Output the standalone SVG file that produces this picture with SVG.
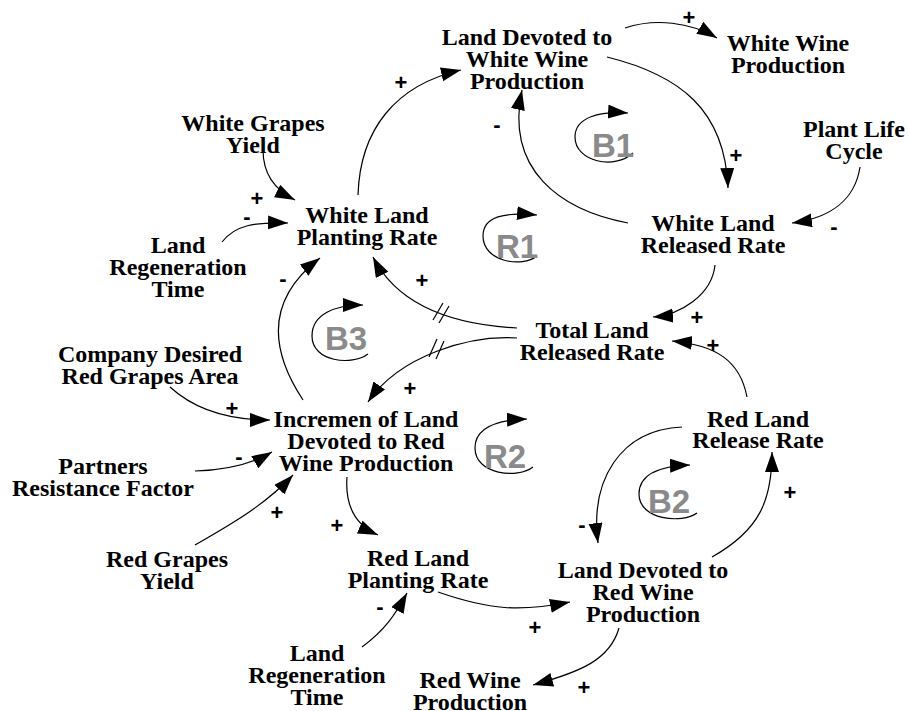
<svg xmlns="http://www.w3.org/2000/svg" width="908" height="711" viewBox="0 0 908 711">
<defs>
<marker id="ah" markerUnits="userSpaceOnUse" markerWidth="22" markerHeight="16" refX="20" refY="7" orient="auto">
<path d="M0,0 L20,7 L0,14 z" fill="#000"/>
</marker>
<style>
.n{font-family:"Liberation Serif","Times New Roman",serif;font-weight:bold;font-size:24px;text-anchor:middle;fill:#000}
.p{font-family:"Liberation Sans",Arial,sans-serif;font-weight:bold;font-size:22px;text-anchor:middle;fill:#000}
.l{font-family:"Liberation Sans",Arial,sans-serif;font-weight:bold;font-size:33px;text-anchor:middle;fill:#8a8a8a}
.c{fill:none;stroke:#000;stroke-width:1.2}
.a{marker-end:url(#ah)}
</style>
</defs>
<rect width="908" height="711" fill="#fff"/>
<g id="connectors">
<path class="c a" d="M358,195 C360,130 395,85 461,70"/>
<path class="c a" d="M625,28 C655,18 690,22 717,38"/>
<path class="c a" d="M607,57 C680,75 725,110 728,188"/>
<path class="c a" d="M628,223 C560,210 505,170 522,90"/>
<path class="c a" d="M860,167 C855,200 830,218 792,223"/>
<path class="c a" d="M263,150 C263,175 275,190 295,200"/>
<path class="c a" d="M222,242 C235,225 255,222 288,223"/>
<path class="c a" d="M303,400 C270,350 265,300 320,258"/>
<path class="c a" d="M517,328 C460,325 400,310 373,257"/>
<path class="c a" d="M517,338 C470,335 400,355 368,402"/>
<path class="c a" d="M715,265 C712,295 680,315 653,317"/>
<path class="c a" d="M747,397 C740,360 715,345 672,341"/>
<path class="c a" d="M170,387 C195,410 230,420 270,420"/>
<path class="c a" d="M195,471 C225,470 250,465 272,452"/>
<path class="c a" d="M195,545 C230,525 265,505 293,475"/>
<path class="c a" d="M347,477 C345,505 355,525 378,535"/>
<path class="c a" d="M362,647 C385,630 395,615 407,593"/>
<path class="c a" d="M438,592 C490,610 520,612 570,602"/>
<path class="c a" d="M619,628 C610,660 580,672 533,685"/>
<path class="c a" d="M712,557 C760,530 772,500 772,452"/>
<path class="c a" d="M682,427 C620,430 590,480 598,543"/>
<path class="c" d="M433,320 L443,303 M439,323 L449,306"/>
<path class="c" d="M429,357 L437,339 M436,359 L444,341"/>
<path class="c a" d="M633,153 C615,170 575,162 575,137 C575,117 600,111 628,113"/>
<path class="c a" d="M537,256 C522,268 483,262 483,236 C483,216 505,212 537,215"/>
<path class="c a" d="M368,354 C352,366 312,362 312,336 C312,314 335,305 363,305"/>
<path class="c a" d="M533,467 C518,479 475,475 475,448 C475,427 498,420 527,419"/>
<path class="c a" d="M697,513 C682,524 639,520 639,494 C639,473 662,466 690,465"/>
</g>
<g id="polarities">
<text class="p" x="401" y="90">+</text>
<text class="p" x="689" y="25">+</text>
<text class="p" x="736" y="163">+</text>
<text class="p" x="497" y="132">-</text>
<text class="p" x="834" y="234">-</text>
<text class="p" x="257" y="206">+</text>
<text class="p" x="247" y="224">-</text>
<text class="p" x="283" y="286">-</text>
<text class="p" x="422" y="288">+</text>
<text class="p" x="410" y="396">+</text>
<text class="p" x="697" y="325">+</text>
<text class="p" x="713" y="353">+</text>
<text class="p" x="232" y="416">+</text>
<text class="p" x="239" y="464">-</text>
<text class="p" x="277" y="520">+</text>
<text class="p" x="337" y="533">+</text>
<text class="p" x="380" y="614">-</text>
<text class="p" x="535" y="635">+</text>
<text class="p" x="584" y="695">+</text>
<text class="p" x="790" y="500">+</text>
<text class="p" x="582" y="532">-</text>
</g>
<g id="loops">
<text class="l" x="613" y="157">B1</text>
<text class="l" x="517" y="258">R1</text>
<text class="l" x="346" y="350">B3</text>
<text class="l" x="505" y="468">R2</text>
<text class="l" x="669" y="513">B2</text>
</g>
<g id="landWhite"><text class="n" x="527" y="45">Land Devoted to</text><text class="n" x="527" y="67">White Wine</text><text class="n" x="527" y="89">Production</text></g>
<g id="whiteWineProd"><text class="n" x="788" y="51">White Wine</text><text class="n" x="788" y="73">Production</text></g>
<g id="plantLife"><text class="n" x="854" y="137">Plant Life</text><text class="n" x="854" y="159">Cycle</text></g>
<g id="whiteReleased"><text class="n" x="713" y="231">White Land</text><text class="n" x="713" y="253">Released Rate</text></g>
<g id="totalReleased"><text class="n" x="592" y="338">Total Land</text><text class="n" x="592" y="360">Released Rate</text></g>
<g id="whitePlanting"><text class="n" x="367" y="223">White Land</text><text class="n" x="367" y="245">Planting Rate</text></g>
<g id="whiteYield"><text class="n" x="253" y="131">White Grapes</text><text class="n" x="253" y="153">Yield</text></g>
<g id="regenTop"><text class="n" x="178" y="253">Land</text><text class="n" x="178" y="275">Regeneration</text><text class="n" x="178" y="297">Time</text></g>
<g id="companyDesired"><text class="n" x="150" y="362">Company Desired</text><text class="n" x="150" y="384">Red Grapes Area</text></g>
<g id="incremen"><text class="n" x="366" y="427">Incremen of Land</text><text class="n" x="366" y="449">Devoted to Red</text><text class="n" x="366" y="471">Wine Production</text></g>
<g id="partners"><text class="n" x="103" y="474">Partners</text><text class="n" x="103" y="496">Resistance Factor</text></g>
<g id="redYield"><text class="n" x="167" y="567">Red Grapes</text><text class="n" x="167" y="589">Yield</text></g>
<g id="redPlanting"><text class="n" x="418" y="566">Red Land</text><text class="n" x="418" y="588">Planting Rate</text></g>
<g id="regenBottom"><text class="n" x="317" y="661">Land</text><text class="n" x="317" y="683">Regeneration</text><text class="n" x="317" y="705">Time</text></g>
<g id="redWineProd"><text class="n" x="470" y="688">Red Wine</text><text class="n" x="470" y="710">Production</text></g>
<g id="landRed"><text class="n" x="643" y="578">Land Devoted to</text><text class="n" x="643" y="600">Red Wine</text><text class="n" x="643" y="622">Production</text></g>
<g id="redRelease"><text class="n" x="758" y="427">Red Land</text><text class="n" x="758" y="448">Release Rate</text></g>
</svg>
